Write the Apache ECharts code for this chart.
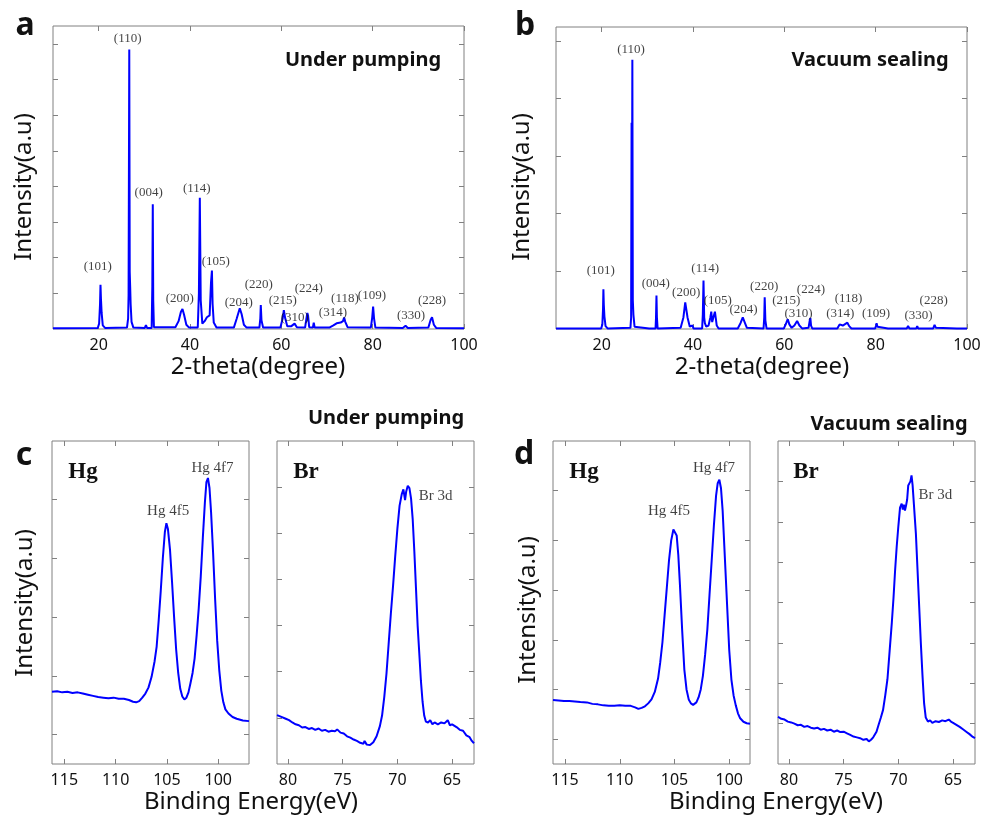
<!DOCTYPE html>
<html>
<head>
<meta charset="utf-8">
<script src="https://cdn.jsdelivr.net/npm/echarts@6/dist/echarts.min.js"></script>
<style>
  html, body { margin: 0; padding: 0; background: #fff; }
  #chart { width: 984px; height: 818px; }
</style>
</head>
<body>
<div id="chart"></div>
<script>
// XRD, 2-theta (degree) vs intensity (a.u.)
const xrdPumping = [
  [10, 0.02], [19.8, 0.03], [20.1, 0.15], [20.3, 0.7], [20.4, 1.24], [20.5, 0.85], [20.65, 0.45], [20.9, 0.1], [21.4, 0.03],
  [26.2, 0.04], [26.45, 0.3], [26.55, 0.95], [26.7, 7.84], [26.8, 1.6], [26.9, 1.18], [27.0, 0.7], [27.2, 0.2], [27.6, 0.04],
  [30.1, 0.03], [30.35, 0.11], [30.6, 0.03],
  [31.6, 0.03], [31.75, 1.2], [31.85, 3.5], [31.95, 0.8], [32.1, 0.05],
  [36.8, 0.05], [37.5, 0.22], [38.0, 0.48], [38.35, 0.56], [38.7, 0.4], [39.2, 0.12], [39.8, 0.04],
  [41.7, 0.04], [41.95, 1.0], [42.15, 3.68], [42.35, 0.8], [42.7, 0.15], [43.2, 0.22], [43.7, 0.33], [44.3, 0.38], [44.6, 1.3], [44.8, 1.64], [44.95, 0.7], [45.2, 0.18], [45.8, 0.04],
  [49.6, 0.04], [50.2, 0.28], [50.9, 0.58], [51.3, 0.42], [51.8, 0.12], [52.4, 0.04],
  [55.2, 0.04], [55.4, 0.3], [55.5, 0.67], [55.65, 0.25], [56.0, 0.04],
  [59.8, 0.04], [60.3, 0.3], [60.55, 0.53], [60.85, 0.3], [61.3, 0.08], [62.2, 0.08], [62.9, 0.15], [63.4, 0.05],
  [65.2, 0.04], [65.5, 0.3], [65.7, 0.45], [65.85, 0.38], [66.1, 0.05], [66.9, 0.04], [67.1, 0.18], [67.3, 0.04],
  [70.5, 0.04], [71.4, 0.1], [72.1, 0.16], [73.0, 0.18], [73.5, 0.22], [73.75, 0.32], [74.0, 0.2], [74.5, 0.05],
  [79.6, 0.04], [79.9, 0.32], [80.1, 0.63], [80.3, 0.3], [80.6, 0.04],
  [86.6, 0.03], [87.2, 0.09], [87.7, 0.03],
  [92.2, 0.04], [92.7, 0.26], [93.0, 0.33], [93.4, 0.12], [93.9, 0.03],
  [100, 0.02]
]

const xrdSealing = [
  [10, 0.01], [19.9, 0.01], [20.15, 0.08], [20.3, 0.35], [20.38, 0.69], [20.47, 0.42], [20.6, 0.22], [20.85, 0.05], [21.3, 0.01],
  [26.3, 0.02], [26.45, 0.2], [26.55, 3.58], [26.62, 1.4], [26.72, 4.67], [26.82, 0.5], [26.95, 0.25], [27.2, 0.04], [27.6, 0.01],
  [30.4, 0.01], [30.6, 0.03], [30.8, 0.01],
  [31.8, 0.01], [31.9, 0.2], [32.0, 0.58], [32.1, 0.2], [32.25, 0.01],
  [37.3, 0.02], [37.9, 0.2], [38.3, 0.46], [38.5, 0.43], [38.8, 0.2], [39.3, 0.04], [39.7, 0.02], [39.9, 0.06], [40.1, 0.01],
  [42.0, 0.01], [42.15, 0.25], [42.3, 0.84], [42.45, 0.2], [42.6, 0.1], [42.9, 0.04], [43.4, 0.06], [43.8, 0.2], [44.0, 0.3], [44.2, 0.12], [44.5, 0.1], [44.8, 0.3], [45.0, 0.28], [45.2, 0.06], [45.6, 0.01],
  [49.8, 0.01], [50.4, 0.1], [50.9, 0.2], [51.3, 0.12], [51.8, 0.02],
  [55.45, 0.01], [55.6, 0.2], [55.7, 0.55], [55.85, 0.15], [56.1, 0.01],
  [59.9, 0.01], [60.4, 0.1], [60.75, 0.17], [61.1, 0.08], [61.6, 0.02], [62.2, 0.06], [62.8, 0.14], [63.3, 0.06], [63.9, 0.01],
  [65.3, 0.02], [65.55, 0.14], [65.7, 0.19], [65.85, 0.06], [66.1, 0.01],
  [71.6, 0.01], [72.1, 0.08], [72.4, 0.11], [72.8, 0.06], [73.2, 0.05], [73.8, 0.11], [74.2, 0.05], [74.7, 0.01],
  [79.9, 0.01], [80.1, 0.06], [80.2, 0.1], [80.4, 0.04], [80.7, 0.01],
  [82.7, 0.01], [82.9, 0.03], [83.1, 0.01],
  [86.8, 0.01], [87.1, 0.05], [87.4, 0.01], [88.9, 0.01], [89.1, 0.05], [89.3, 0.01],
  [92.6, 0.01], [92.9, 0.07], [93.2, 0.02], [93.5, 0.01],
  [97.8, 0.01], [98.0, 0.03], [98.2, 0.01], [100, 0.01]
]

const peakNames = ['(101)', '(110)', '(004)', '(200)', '(114)', '(105)', '(204)', '(220)',
  '(215)', '(310)', '(224)', '(314)', '(118)', '(109)', '(330)', '(228)']
// label anchors [2-theta, intensity] per peak name
const peakLabelsPumping = [[19.8, 1.74], [26.35, 8.15], [30.95, 3.82], [37.75, 0.84], [41.47, 3.93], [45.64, 1.88],
  [50.68, 0.73], [55.07, 1.26], [60.33, 0.79], [62.96, 0.31], [66.03, 1.12], [71.29, 0.45], [73.92, 0.84],
  [79.84, 0.93], [88.39, 0.39], [93.0, 0.79]]
const peakLabelsSealing = [[19.8, 1.01], [26.44, 4.84], [31.85, 0.79], [38.5, 0.63], [42.66, 1.05], [45.43, 0.5],
  [51.05, 0.33], [55.59, 0.73], [60.41, 0.49], [63.1, 0.26], [65.82, 0.69], [72.25, 0.27], [74.07, 0.52],
  [80.07, 0.27], [89.4, 0.23], [92.7, 0.49]]

// XPS, binding energy (eV) vs intensity (a.u.)
const hgPumping = [
  [116.2, 0.73], [115.7, 0.74], [115.2, 0.72], [114.7, 0.73], [114.2, 0.71], [113.7, 0.72], [113.2, 0.7], [112.7, 0.68],
  [112.2, 0.66], [111.7, 0.64], [111.2, 0.63], [110.7, 0.62], [110.2, 0.63], [109.7, 0.61], [109.2, 0.61], [108.7, 0.59],
  [108.3, 0.56], [108.0, 0.55], [107.7, 0.57], [107.4, 0.63], [107.1, 0.7], [106.8, 0.8], [106.5, 0.98], [106.2, 1.25],
  [106.0, 1.5], [105.8, 1.95], [105.6, 2.45], [105.4, 3.0], [105.2, 3.45], [105.05, 3.6], [104.9, 3.5], [104.7, 3.15],
  [104.5, 2.6], [104.3, 2.0], [104.1, 1.45], [103.9, 1.05], [103.7, 0.78], [103.5, 0.65], [103.3, 0.6], [103.1, 0.63],
  [102.9, 0.72], [102.7, 0.88], [102.5, 1.05], [102.3, 1.3], [102.1, 1.7], [101.9, 2.15], [101.7, 2.7], [101.5, 3.35],
  [101.3, 3.95], [101.15, 4.3], [101.0, 4.37], [100.85, 4.2], [100.7, 3.8], [100.5, 3.1], [100.3, 2.3], [100.1, 1.6],
  [99.9, 1.1], [99.7, 0.75], [99.5, 0.55], [99.3, 0.43], [99.0, 0.36], [98.6, 0.3], [98.2, 0.27], [97.6, 0.24], [97.0, 0.23]
]
const brPumping = [
  [81.0, 1.06], [80.6, 1.02], [80.2, 0.98], [79.9, 0.95], [79.6, 0.9], [79.3, 0.86], [79.0, 0.84], [78.7, 0.79],
  [78.4, 0.8], [78.1, 0.76], [77.8, 0.78], [77.5, 0.74], [77.2, 0.77], [76.9, 0.72], [76.6, 0.74], [76.3, 0.7],
  [76.0, 0.72], [75.7, 0.71], [75.5, 0.75], [75.2, 0.68], [74.9, 0.66], [74.6, 0.6], [74.3, 0.57], [74.0, 0.53],
  [73.7, 0.5], [73.4, 0.46], [73.1, 0.44], [73.0, 0.5], [72.8, 0.42], [72.5, 0.41], [72.2, 0.47], [71.9, 0.6],
  [71.6, 0.82], [71.4, 1.05], [71.2, 1.45], [71.0, 1.95], [70.8, 2.6], [70.6, 3.25], [70.4, 3.85], [70.2, 4.5],
  [70.0, 5.1], [69.8, 5.6], [69.6, 5.85], [69.45, 5.95], [69.3, 5.72], [69.2, 5.9], [69.05, 6.03], [68.9, 5.98],
  [68.75, 5.75], [68.6, 5.3], [68.45, 4.6], [68.3, 3.8], [68.15, 3.0], [68.0, 2.4], [67.85, 1.8], [67.7, 1.35],
  [67.55, 1.05], [67.4, 0.92], [67.2, 0.9], [67.0, 0.95], [66.8, 0.86], [66.6, 0.9], [66.3, 0.86], [66.0, 0.9],
  [65.7, 0.88], [65.4, 0.95], [65.2, 0.84], [65.0, 0.86], [64.6, 0.8], [64.3, 0.74], [64.0, 0.72], [63.7, 0.62],
  [63.4, 0.58], [63.2, 0.5], [63.0, 0.45]
]
const hgSealing = [
  [116.1, 0.79], [115.6, 0.78], [115.1, 0.77], [114.6, 0.77], [114.1, 0.76], [113.6, 0.75], [113.0, 0.74], [112.5, 0.71],
  [112.0, 0.7], [111.5, 0.68], [111.0, 0.67], [110.5, 0.67], [110.0, 0.68], [109.5, 0.67], [109.0, 0.67], [108.6, 0.64],
  [108.3, 0.61], [108.0, 0.63], [107.7, 0.66], [107.4, 0.72], [107.1, 0.8], [106.8, 0.95], [106.5, 1.22], [106.3, 1.55],
  [106.1, 1.95], [105.9, 2.5], [105.7, 3.05], [105.5, 3.6], [105.3, 4.0], [105.1, 4.22], [104.95, 4.25], [104.8, 4.1],
  [104.65, 3.7], [104.5, 3.1], [104.3, 2.2], [104.1, 1.4], [103.9, 1.0], [103.7, 0.8], [103.5, 0.72], [103.3, 0.69],
  [103.0, 0.74], [102.8, 0.84], [102.6, 1.0], [102.4, 1.28], [102.2, 1.7], [102.0, 2.2], [101.8, 2.9], [101.6, 3.6],
  [101.4, 4.3], [101.2, 4.9], [101.05, 5.15], [100.9, 5.22], [100.75, 5.05], [100.6, 4.6], [100.45, 3.9], [100.3, 3.2],
  [100.15, 2.5], [100.0, 1.8], [99.8, 1.2], [99.6, 0.88], [99.4, 0.68], [99.2, 0.52], [99.0, 0.42], [98.7, 0.35],
  [98.4, 0.32], [98.1, 0.31]
]
const brSealing = [
  [81.0, 1.17], [80.7, 1.12], [80.4, 1.1], [80.1, 1.05], [79.8, 1.03], [79.5, 1.0], [79.2, 0.96], [78.9, 0.97],
  [78.6, 0.92], [78.3, 0.94], [78.0, 0.9], [77.7, 0.88], [77.4, 0.9], [77.1, 0.85], [76.8, 0.87], [76.5, 0.83],
  [76.2, 0.85], [75.9, 0.8], [75.6, 0.83], [75.3, 0.79], [75.0, 0.8], [74.7, 0.76], [74.4, 0.72], [74.1, 0.68],
  [73.8, 0.66], [73.5, 0.64], [73.2, 0.6], [72.9, 0.62], [72.7, 0.56], [72.5, 0.6], [72.3, 0.66], [72.0, 0.8],
  [71.8, 0.98], [71.6, 1.15], [71.4, 1.34], [71.2, 1.7], [71.0, 2.1], [70.8, 2.8], [70.6, 3.5], [70.45, 4.1],
  [70.3, 4.8], [70.15, 5.4], [70.0, 5.9], [69.85, 6.35], [69.7, 6.45], [69.6, 6.3], [69.5, 6.42], [69.4, 6.28],
  [69.3, 6.4], [69.2, 6.55], [69.1, 6.9], [69.0, 6.95], [68.9, 7.0], [68.8, 7.15], [68.7, 6.9], [68.55, 6.3],
  [68.4, 5.7], [68.25, 4.8], [68.1, 3.9], [67.95, 3.0], [67.8, 2.2], [67.65, 1.5], [67.5, 1.15], [67.3, 1.05],
  [67.1, 1.08], [66.9, 1.02], [66.6, 1.06], [66.3, 1.04], [66.0, 1.08], [65.7, 1.06], [65.4, 1.1], [65.2, 1.05],
  [65.0, 1.02], [64.7, 0.97], [64.4, 0.92], [64.1, 0.86], [63.8, 0.8], [63.5, 0.74], [63.2, 0.67], [63.0, 0.64]
]

const xpsHgNames = ['Hg 4f5', 'Hg 4f7']
const hgLabelsPumping = [[104.88, 3.81], [100.56, 4.54]]
const hgLabelsSealing = [[105.5, 4.59], [101.39, 5.45]]
const brLabelsPumping = [[66.5, 5.81]]
const brLabelsSealing = [[66.62, 6.66]]

const xrdTicks = [20, 40, 60, 80, 100]
const hgTicks = [100, 105, 110, 115]
const brTicks = [65, 70, 75, 80]

const BLUE = '#0000ff'
const GRAY = '#808080'
const SANS = 'Noto Sans'
const SERIF = 'Liberation Serif'

const panels = [
  { grid: { left: 53, top: 26, width: 411, height: 303 }, x: [10, 100], xTicks: xrdTicks, inverse: false,
    y: [0, 8.5], yTicks: [1, 2, 3, 4, 5, 6, 7, 8], data: xrdPumping, width: 2 },
  { grid: { left: 556, top: 27, width: 411, height: 302 }, x: [10, 100], xTicks: xrdTicks, inverse: false,
    y: [0, 5.24], yTicks: [1, 2, 3, 4, 5], data: xrdSealing, width: 2 },
  { grid: { left: 52, top: 441, width: 197, height: 323 }, x: [97, 116.2], xTicks: hgTicks, inverse: true,
    y: [-0.5, 5], yTicks: [0, 1, 2, 3, 4], data: hgPumping, width: 2 },
  { grid: { left: 277, top: 441, width: 197, height: 323 }, x: [63, 81], xTicks: brTicks, inverse: true,
    y: [0, 7], yTicks: [1, 2, 3, 4, 5, 6], data: brPumping, width: 2 },
  { grid: { left: 553, top: 441, width: 197, height: 323 }, x: [98.1, 116.1], xTicks: hgTicks, inverse: true,
    y: [-0.5, 6], yTicks: [0, 1, 2, 3, 4, 5], data: hgSealing, width: 2 },
  { grid: { left: 778, top: 441, width: 197, height: 323 }, x: [63, 81], xTicks: brTicks, inverse: true,
    y: [0, 8], yTicks: [1, 2, 3, 4, 5, 6, 7], data: brSealing, width: 2 }
]

const tick = (values) => ({
  show: true, inside: true, length: 5, customValues: values,
  lineStyle: { color: GRAY, width: 1 }
})

const grids = []
const xAxes = []
const yAxes = []
const series = []

panels.forEach((p, i) => {
  grids.push({ ...p.grid, show: true, borderColor: GRAY, borderWidth: 1, containLabel: false })
  ;['bottom', 'top'].forEach(pos => {
    xAxes.push({
      gridIndex: i, type: 'value', position: pos, min: p.x[0], max: p.x[1], inverse: p.inverse,
      axisLine: { show: false, onZero: false },
      axisTick: tick(p.xTicks),
      splitLine: { show: false },
      axisLabel: pos === 'bottom'
        ? { show: true, customValues: p.xTicks, margin: 8, color: '#111', fontFamily: SANS, fontSize: 16 }
        : { show: false }
    })
  })
  ;['left', 'right'].forEach(pos => {
    yAxes.push({
      gridIndex: i, type: 'value', position: pos, min: p.y[0], max: p.y[1],
      axisLine: { show: false, onZero: false },
      axisTick: tick(p.yTicks),
      splitLine: { show: false },
      axisLabel: { show: false }
    })
  })
  series.push({
    type: 'line', xAxisIndex: i * 2, yAxisIndex: i * 2, data: p.data,
    showSymbol: false, symbol: 'none', silent: true,
    lineStyle: { color: BLUE, width: p.width }
  })
})

const labelSeries = (panelIndex, names, anchors, fontSize) => ({
  type: 'scatter', xAxisIndex: panelIndex * 2, yAxisIndex: panelIndex * 2, symbolSize: 0, silent: true,
  data: anchors.map((a, k) => ({ name: names[k], value: a })),
  label: {
    show: true, position: 'inside', formatter: '{b}',
    color: '#111', fontFamily: SERIF, fontSize: fontSize
  },
  z: 5
})

series.push(labelSeries(0, peakNames, peakLabelsPumping, 13))
series.push(labelSeries(1, peakNames, peakLabelsSealing, 13))
series.push(labelSeries(2, xpsHgNames, hgLabelsPumping, 15))
series.push(labelSeries(3, ['Br 3d'], brLabelsPumping, 15))
series.push(labelSeries(4, xpsHgNames, hgLabelsSealing, 15))
series.push(labelSeries(5, ['Br 3d'], brLabelsSealing, 15))

const txt = (text, x, y, font, extra = {}) => ({
  type: 'text', x: x, y: y, silent: true, ...extra,
  style: { text: text, font: font, fill: '#111', align: 'center', verticalAlign: 'middle' }
})
const titleFont = `bold 20px "${SANS}"`
const letterFont = `bold 32px "${SANS}"`
const axisFont = `24px "${SANS}"`
const elemFont = `bold 23px "${SERIF}"`
const vertical = { rotation: Math.PI / 2 }

const graphics = [
  txt('a', 25, 26, letterFont), txt('b', 525, 26, letterFont),
  txt('c', 24, 456, letterFont), txt('d', 524, 455, letterFont),
  txt('Under pumping', 363, 60, titleFont), txt('Vacuum sealing', 870, 60, titleFont),
  txt('Under pumping', 386, 418, titleFont), txt('Vacuum sealing', 889, 424, titleFont),
  txt('Hg', 83, 472, elemFont), txt('Br', 306, 472, elemFont),
  txt('Hg', 584, 472, elemFont), txt('Br', 806, 472, elemFont),
  txt('Intensity(a.u)', 24, 187, axisFont, vertical), txt('Intensity(a.u)', 522, 187, axisFont, vertical),
  txt('Intensity(a.u)', 25, 603, axisFont, vertical), txt('Intensity(a.u)', 528, 610, axisFont, vertical),
  txt('2-theta(degree)', 258, 367, axisFont), txt('2-theta(degree)', 762, 367, axisFont),
  txt('Binding Energy(eV)', 251, 802, axisFont), txt('Binding Energy(eV)', 776, 802, axisFont)
]

const chart = echarts.init(document.getElementById('chart'))
chart.setOption({
  animation: false,
  backgroundColor: '#fff',
  grid: grids,
  xAxis: xAxes,
  yAxis: yAxes,
  series: series,
  graphic: graphics
})
</script>
</body>
</html>
